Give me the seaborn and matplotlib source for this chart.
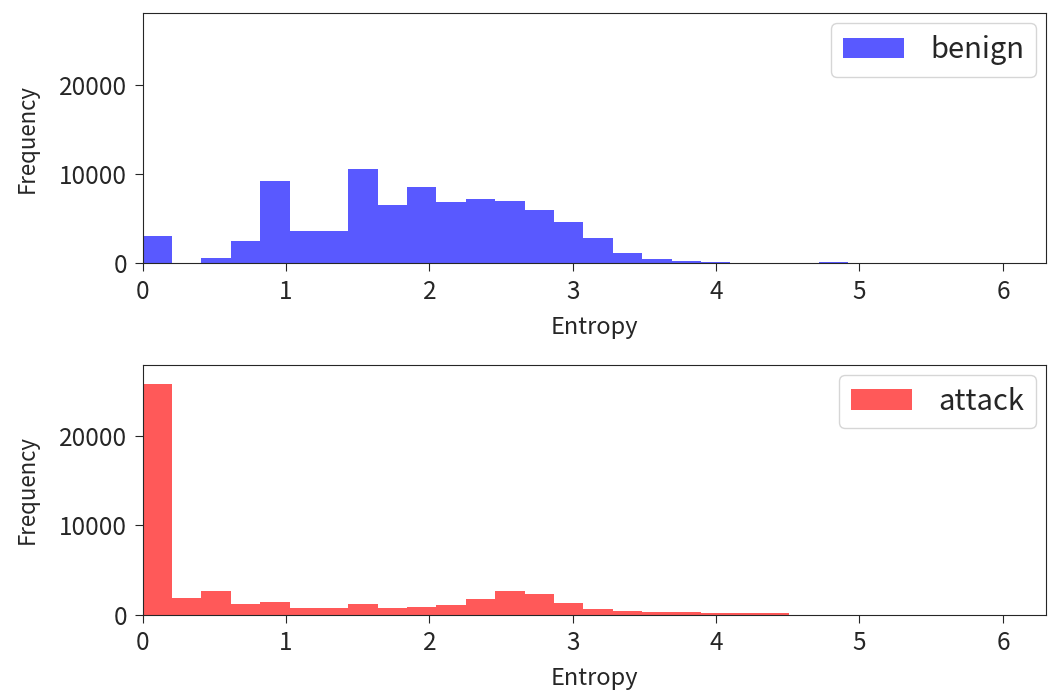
import matplotlib
matplotlib.use("Agg")
import matplotlib.pyplot as plt
import numpy as np
import seaborn as sns

# histogram bin edges (width ~0.205) and counts
BIN_WIDTH = 0.205
N_BINS = 30
bin_edges = [round(i * BIN_WIDTH, 3) for i in range(N_BINS + 1)]

benign_counts = [
    3020, 0, 600, 2540, 9240, 3610, 3610, 10580, 6520, 8600,
    6850, 7190, 6930, 5960, 4580, 2830, 1120, 480, 220, 110,
    30, 20, 20, 150, 20, 10, 60, 0, 0, 0,
]
attack_counts = [
    25780, 1860, 2640, 1190, 1420, 710, 780, 1230, 780, 890,
    1090, 1760, 2620, 2370, 1290, 650, 470, 280, 280, 160,
    160, 160, 5, 5, 0, 0, 0, 0, 0, 0,
]

series = [("benign", benign_counts, (0, 0, 1)), ("attack", attack_counts, (1, 0, 0))]

sns.set_style("ticks")
plt.rcParams["font.family"] = ["Noto Sans CJK JP", "DejaVu Sans"]
plt.rcParams["font.size"] = 15

fig, axes = plt.subplots(2, 1, figsize=(10.48, 6.97), dpi=100)

centers = [(bin_edges[i] + bin_edges[i + 1]) / 2 for i in range(N_BINS)]
for ax, (label, counts, color) in zip(axes, series):
    sns.histplot(
        x=centers, weights=counts, bins=bin_edges, ax=ax,
        color=color, alpha=0.65, linewidth=0,
        label=label,
    )
    ax.set_xlim(0, 6.3)
    ax.set_ylim(0, 28000)
    ax.set_yticks([0, 10000, 20000])
    ax.set_xlabel("Entropy", fontsize=17, labelpad=8)
    ax.set_ylabel("Frequency", fontsize=16, labelpad=15)
    ax.tick_params(labelsize=17.5, length=6, pad=5)
    ax.legend(loc="upper right", fontsize=21, handlelength=2.1,
              handletextpad=0.9, borderaxespad=0.35)

fig.subplots_adjust(left=0.136, right=0.998, top=0.981, bottom=0.118, hspace=0.405)
fig.savefig("out.png", dpi=100)
